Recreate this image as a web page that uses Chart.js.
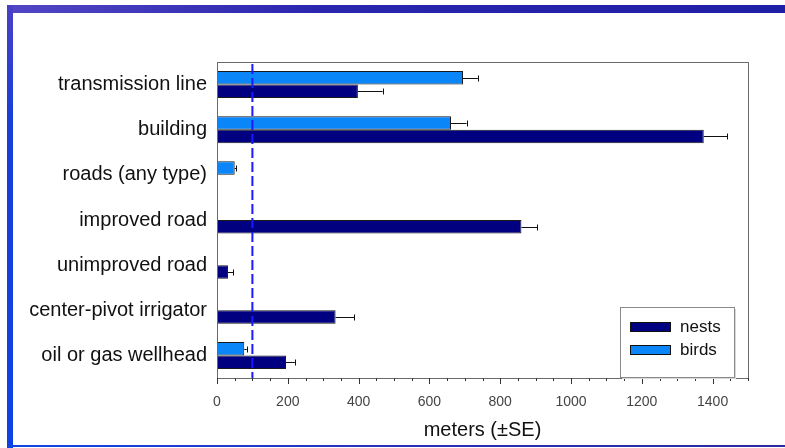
<!DOCTYPE html>
<html>
<head>
<meta charset="utf-8">
<script src="https://cdn.jsdelivr.net/npm/chart.js@4.4.1/dist/chart.umd.min.js"></script>
<style>
  html, body { margin: 0; padding: 0; background: #fff; }
  #wrap { position: relative; width: 785px; height: 448px; overflow: hidden; }
  #topBar { position: absolute; left: 7px; top: 5px; width: 778px; height: 8px;
    background: linear-gradient(to right, #5246c4, #2a26ae 40%, #1f1fa6); }
  #leftBar { position: absolute; left: 7px; top: 5px; width: 6px; height: 443px;
    background: linear-gradient(to bottom, #4a40c4, #1a3ed8 25%, #0f42e4); }
  #bottomBar { position: absolute; left: 7px; top: 445px; width: 778px; height: 2px;
    background: linear-gradient(to right, #1046e4, #2a2fb8 50%, #2a2aa0); }
  canvas { position: absolute; left: 0; top: 0; }
</style>
</head>
<body>
<div id="wrap">
  <canvas id="myChart" width="785" height="448"></canvas>
  <div id="topBar"></div>
  <div id="leftBar"></div>
  <div id="bottomBar"></div>
</div>
<script>
// categories, top to bottom
const categories = ['transmission line', 'building', 'roads (any type)', 'improved road',
  'unimproved road', 'center-pivot irrigator', 'oil or gas wellhead'];

// mean distance in meters and standard error
const nests = [398, 1375, null, 860, 31, 335, 195];
const nestsSE = [70, 66, null, 44, 15, 53, 25];
const birds = [695, 661, 50, null, null, null, 77];
const birdsSE = [42, 44, 4, null, null, null, 7];

const threshold = 100;
const xMax = 1500;
const labelEvery = 200;

const fontFamily = '"Liberation Sans", Arial, sans-serif';

// error bars, only on the positive side
const errorBars = {
  id: 'errorBars',
  afterDatasetsDraw(chart) {
    const ctx = chart.ctx;
    const x = chart.scales.x;
    ctx.save();
    ctx.strokeStyle = '#111';
    ctx.lineWidth = 1;
    chart.data.datasets.forEach((ds, i) => {
      const meta = chart.getDatasetMeta(i);
      meta.data.forEach((bar, j) => {
        const v = ds.data[j];
        const se = ds.se[j];
        if (v == null || se == null) return;
        const x1 = x.getPixelForValue(v + se);
        const y = Math.round(bar.y) + 0.5;
        ctx.beginPath();
        ctx.moveTo(bar.x, y);
        ctx.lineTo(x1, y);
        ctx.moveTo(Math.round(x1) + 0.5, y - 3);
        ctx.lineTo(Math.round(x1) + 0.5, y + 3);
        ctx.stroke();
      });
    });
    ctx.restore();
  }
};

// frame, axis ticks, dashed 100 m line and legend box
const extras = {
  id: 'extras',
  afterDatasetsDraw(chart) {
    const ctx = chart.ctx;
    const a = chart.chartArea;
    const x = chart.scales.x;
    ctx.save();

    // dashed reference line
    const tx = x.getPixelForValue(threshold);
    ctx.strokeStyle = '#1a1aff';
    ctx.lineWidth = 2;
    ctx.setLineDash([10, 4]);
    ctx.beginPath();
    ctx.moveTo(tx, a.top + 2);
    ctx.lineTo(tx, a.bottom);
    ctx.stroke();
    ctx.setLineDash([]);

    // plot frame
    ctx.strokeStyle = '#6a6a6a';
    ctx.lineWidth = 1;
    ctx.strokeRect(Math.round(a.left) + 0.5, Math.round(a.top) + 0.5,
      Math.round(a.right - a.left), Math.round(a.bottom - a.top));

    // ticks under the x axis
    ctx.strokeStyle = '#333';
    x.ticks.forEach(t => {
      const px = Math.round(x.getPixelForValue(t.value)) + 0.5;
      const len = t.value % labelEvery === 0 ? 6 : 3;
      ctx.beginPath();
      ctx.moveTo(px, a.bottom);
      ctx.lineTo(px, a.bottom + len);
      ctx.stroke();
    });

    // legend box, nests first
    const bx = 620, by = 307, bw = 114, bh = 70;
    ctx.fillStyle = '#d8d8d8';
    ctx.fillRect(bx + 2, by + 2, bw, bh);
    ctx.fillStyle = '#fff';
    ctx.fillRect(bx, by, bw, bh);
    ctx.strokeStyle = '#8a8a8a';
    ctx.strokeRect(bx + 0.5, by + 0.5, bw, bh);
    const items = chart.data.datasets.slice().reverse();
    ctx.font = '17px ' + fontFamily;
    ctx.textBaseline = 'middle';
    items.forEach((ds, k) => {
      const y = by + 15 + k * 23;
      ctx.fillStyle = ds.backgroundColor;
      ctx.fillRect(630, y, 40, 9);
      ctx.strokeStyle = '#111';
      ctx.strokeRect(630.5, y + 0.5, 40, 9);
      ctx.fillStyle = '#111';
      ctx.fillText(ds.label, 680, y + 5);
    });
    ctx.restore();
  }
};

const ctx = document.getElementById('myChart').getContext('2d');
const myChart = new Chart(ctx, {
  type: 'bar',
  data: {
    labels: categories,
    datasets: [{
      label: 'birds',
      data: birds,
      se: birdsSE,
      backgroundColor: '#0a86f8',
      borderColor: '#1a1a1a',
      borderWidth: 1,
      borderSkipped: false
    }, {
      label: 'nests',
      data: nests,
      se: nestsSE,
      backgroundColor: '#000080',
      borderColor: '#1a1a1a',
      borderWidth: 1,
      borderSkipped: false
    }]
  },
  options: {
    indexAxis: 'y',
    responsive: false,
    animation: false,
    datasets: { bar: { categoryPercentage: 0.6, barPercentage: 1.0 } },
    layout: { padding: { left: 0, top: 62, right: 37, bottom: 0 } },
    plugins: {
      legend: { display: false },
      tooltip: { enabled: false }
    },
    scales: {
      x: {
        min: 0,
        max: xMax,
        grid: { display: false, drawTicks: false },
        border: { display: false },
        ticks: {
          stepSize: 50,
          autoSkip: false,
          maxRotation: 0,
          padding: 16,
          color: '#444',
          font: { family: fontFamily, size: 14 },
          callback: v => (v % labelEvery === 0 ? v : '')
        },
        title: {
          display: true,
          text: 'meters (±SE)',
          color: '#111',
          font: { family: fontFamily, size: 20 },
          padding: { top: 0, bottom: 6 }
        },
        afterFit: s => { s.height = 70; }
      },
      y: {
        grid: { display: false, drawTicks: false },
        border: { display: false },
        ticks: {
          padding: 10,
          color: '#111',
          font: { family: fontFamily, size: 20 }
        },
        afterFit: s => { s.width = 217; }
      }
    }
  },
  plugins: [errorBars, extras]
});
</script>
</body>
</html>
